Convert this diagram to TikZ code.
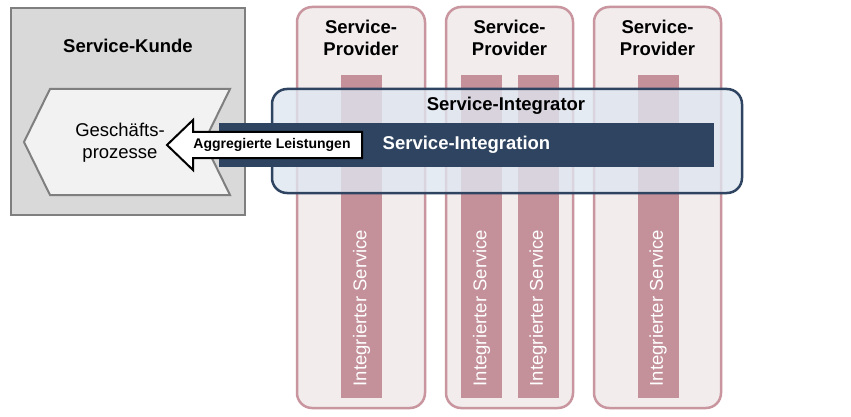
\documentclass[tikz,border=0pt]{standalone}
\usepackage{fontspec}
\setmainfont{Liberation Sans}
\usetikzlibrary{positioning,calc}
\definecolor{kundefill}{RGB}{217,217,217}
\definecolor{kundeline}{RGB}{127,127,127}
\definecolor{gpfill}{RGB}{242,242,242}
\definecolor{provfill}{RGB}{242,236,237}
\definecolor{provline}{RGB}{201,150,159}
\definecolor{svcrose}{RGB}{196,144,154}
\definecolor{intfill}{RGB}{222,230,240}
\definecolor{intblue}{RGB}{47,68,96}
\tikzset{
  big/.style={font=\fontsize{18.5}{22}\selectfont},
  bigbold/.style={font=\bfseries\fontsize{18.5}{22}\selectfont, align=center},
  kundebox/.style={draw=kundeline, line width=2.5pt, fill=kundefill, minimum width=234pt, minimum height=207pt, inner sep=0pt},
  chevron/.style={draw=kundeline, line width=2pt, fill=gpfill, line join=miter},
  provbox/.style={rounded corners=15pt, draw=provline, line width=2.5pt, fill=provfill, minimum height=401pt, inner sep=0pt},
  svcbar/.style={fill=svcrose, minimum width=41pt, minimum height=323pt, inner sep=0pt},
  svctext/.style={big, rotate=90, text=white},
  intbox/.style={rounded corners=15pt, draw=intblue, line width=2.5pt, fill=intfill, fill opacity=0.78, minimum width=470pt, minimum height=104pt, inner sep=0pt},
  intbar/.style={bigbold, fill=intblue, text=white, minimum width=495pt, minimum height=43.5pt, inner sep=0pt},
  blockarrow/.style={draw=black, line width=2pt, fill=white, line join=miter},
}
\begin{document}
\begin{tikzpicture}[x=1pt, y=-1pt]
    \fill[white] (0,0) rectangle (851,417);
    \useasboundingbox (0,0) rectangle (851,417);
    % Kunde
    \node[kundebox] (kundebox) at (128,111.5) {};
    \node[bigbold] (kunde) at (128,46) {Service-Kunde};
    \draw[chevron] (50,89) -- (230,89) -- (204,142) -- (230,195) -- (50,195) -- (24,142) -- cycle;
    \node[big, align=center] (gp) at (120,143) {Geschäfts-\\prozesse};
    % Provider
    \node[provbox, minimum width=128pt] (prov1) at (361,207.5) {};
    \node[provbox, minimum width=127pt] (prov2) at (509.5,207.5) {};
    \node[provbox, minimum width=127pt] (prov3) at (657.5,207.5) {};
    \node[bigbold] (ptitle1) at (361,38) {Service-\\Provider};
    \node[bigbold] (ptitle2) at (509.5,38) {Service-\\Provider};
    \node[bigbold] (ptitle3) at (657.5,38) {Service-\\Provider};
    \node[svcbar] (svc1) at (361.5,236.5) {};
    \node[svcbar] (svc2) at (481.5,236.5) {};
    \node[svcbar] (svc3) at (538,236.5) {};
    \node[svcbar] (svc4) at (658,236.5) {};
    \node[svctext] (svctext1) at (361.5,308) {Integrierter Service};
    \node[svctext] (svctext2) at (481.5,308) {Integrierter Service};
    \node[svctext] (svctext3) at (538,308) {Integrierter Service};
    \node[svctext] (svctext4) at (658,308) {Integrierter Service};
    % Integrator
    \node[intbox] (integrator) at (507,141) {};
    \node[bigbold] (inttitle) at (506,106) {Service-Integrator};
    \node[intbar] (integration) at (466.5,144.75) {Service-Integration};
    % aggregierte Leistungen
    \draw[blockarrow] (167,145) -- (193,120) -- (193,132) -- (362,132) -- (362,158) -- (193,158) -- (193,170) -- cycle;
    \node[font=\bfseries\fontsize{14}{16}\selectfont] (agg) at (272,145) {Aggregierte Leistungen};
  \end{tikzpicture}
\end{document}
